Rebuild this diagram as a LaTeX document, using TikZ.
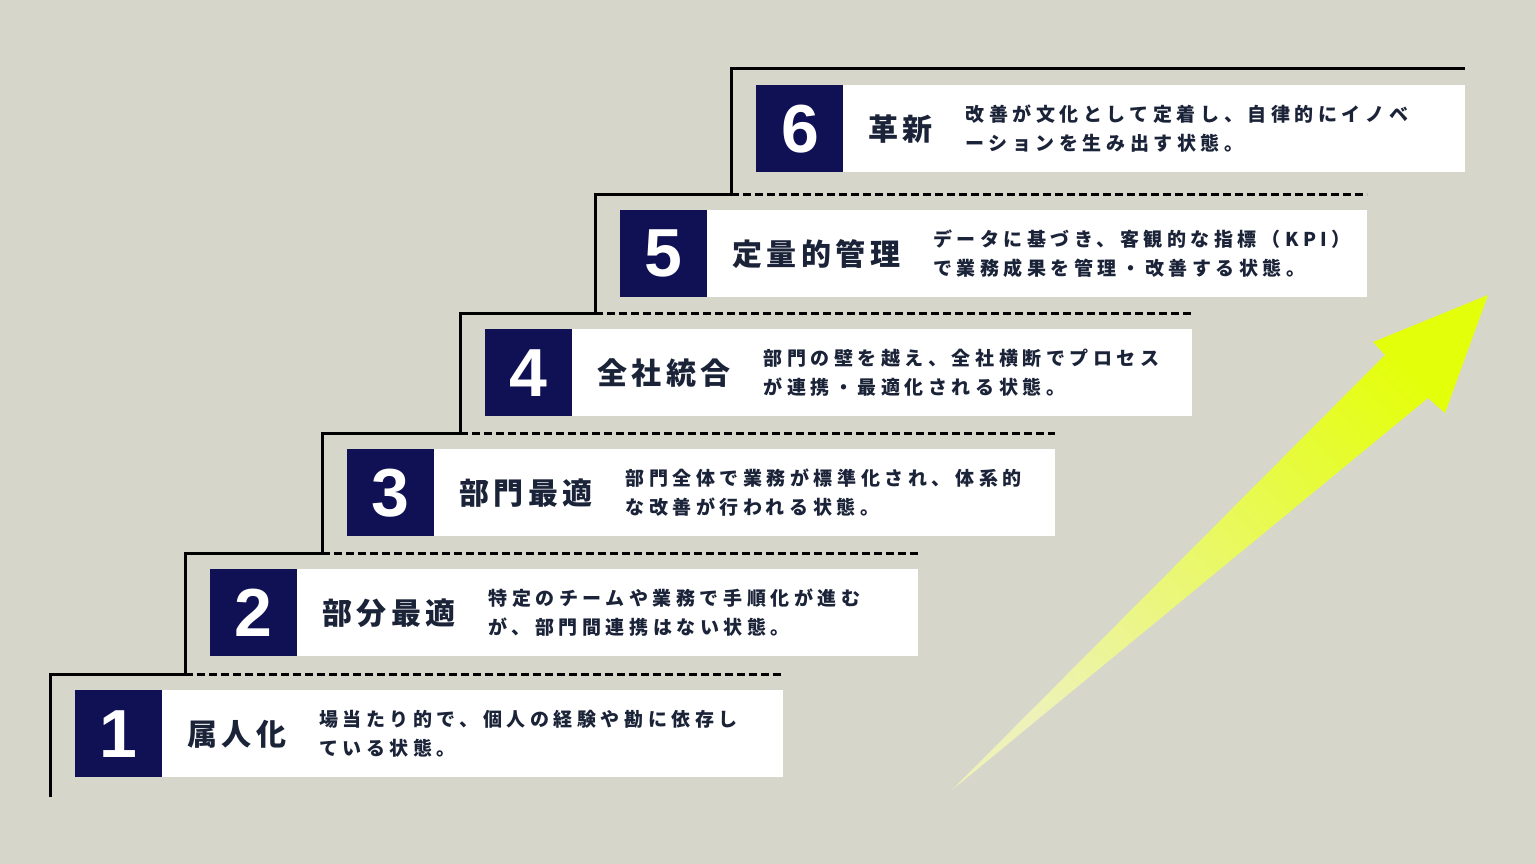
\documentclass[tikz,border=0pt]{standalone}
\usepackage{fontspec}
\usetikzlibrary{positioning}
\newfontfamily\titlefont{Noto Sans CJK JP}[LetterSpace=15]
\newfontfamily\descfont{Noto Sans CJK JP}[LetterSpace=24]
\newfontfamily\numfont{Liberation Sans}
\definecolor{bgcol}{RGB}{214,214,203}
\definecolor{navy}{RGB}{16,16,84}
\definecolor{ink}{RGB}{27,35,56}
\definecolor{lime}{RGB}{228,255,10}
\definecolor{limepale}{RGB}{238,242,185}
\begin{document}
\begin{tikzpicture}[x=1pt, y=-1pt, thick, >=stealth,
    stair/.style={line width=3pt, black},
    numbox/.style={fill=navy, minimum width=87pt, minimum height=87pt, inner sep=0pt,
      text=white, font=\numfont\bfseries\fontsize{68}{68}\selectfont},
    stagetitle/.style={inner sep=0pt, text=ink, font=\titlefont\bfseries\fontsize{30}{30}\selectfont},
    stagedesc/.style={inner sep=0pt, text=ink, align=left, font=\descfont\bfseries\fontsize{19}{29}\selectfont}]
  \fill[bgcol] (0,0) rectangle (1536,864);
  \shade[bottom color=limepale, top color=lime, shading angle=-47]
    (952,790) -- (1428,398) -- (1445,413) -- (1488,295) -- (1373,342) -- (1385,355) -- cycle;
  \draw[stair] (50,797) |- (185,674) |- (322,553) |- (460,433) |- (595,313) |- (731,194) |- (1465,69);
  \draw[stair, dash pattern=on 8pt off 4pt] (185,674) -- (783,674);
  \draw[stair, dash pattern=on 8pt off 4pt] (322,553) -- (918,553);
  \draw[stair, dash pattern=on 8pt off 4pt] (460,433) -- (1055,433);
  \draw[stair, dash pattern=on 8pt off 4pt] (595,313) -- (1192,313);
  \draw[stair, dash pattern=on 8pt off 4pt] (731,194) -- (1367,194);
  \foreach \x/\y/\r/\n/\t/\da/\db in {
      50/674/783/1/属人化/場当たり的で、個人の経験や勘に依存し/ている状態。,
      185/553/918/2/部分最適/特定のチームや業務で手順化が進む/が、部門間連携はない状態。,
      322/433/1055/3/部門最適/部門全体で業務が標準化され、体系的/な改善が行われる状態。,
      460/313/1192/4/全社統合/部門の壁を越え、全社横断でプロセス/が連携・最適化される状態。,
      595/194/1367/5/定量的管理/データに基づき、客観的な指標（KPI）/で業務成果を管理・改善する状態。,
      731/69/1465/6/革新/改善が文化として定着し、自律的にイノベ/ーションを生み出す状態。} {
    \fill[white] (\x+25,\y+16) rectangle (\r,\y+103);
    \node[numbox, anchor=north west] (n\n) at (\x+25,\y+16) {\n};
    \node[stagetitle, right=24pt of n\n] (t\n) {\t};
    \node[stagedesc, right=32pt of t\n] (d\n) {\da\\\db};
  }
\end{tikzpicture}
\end{document}
